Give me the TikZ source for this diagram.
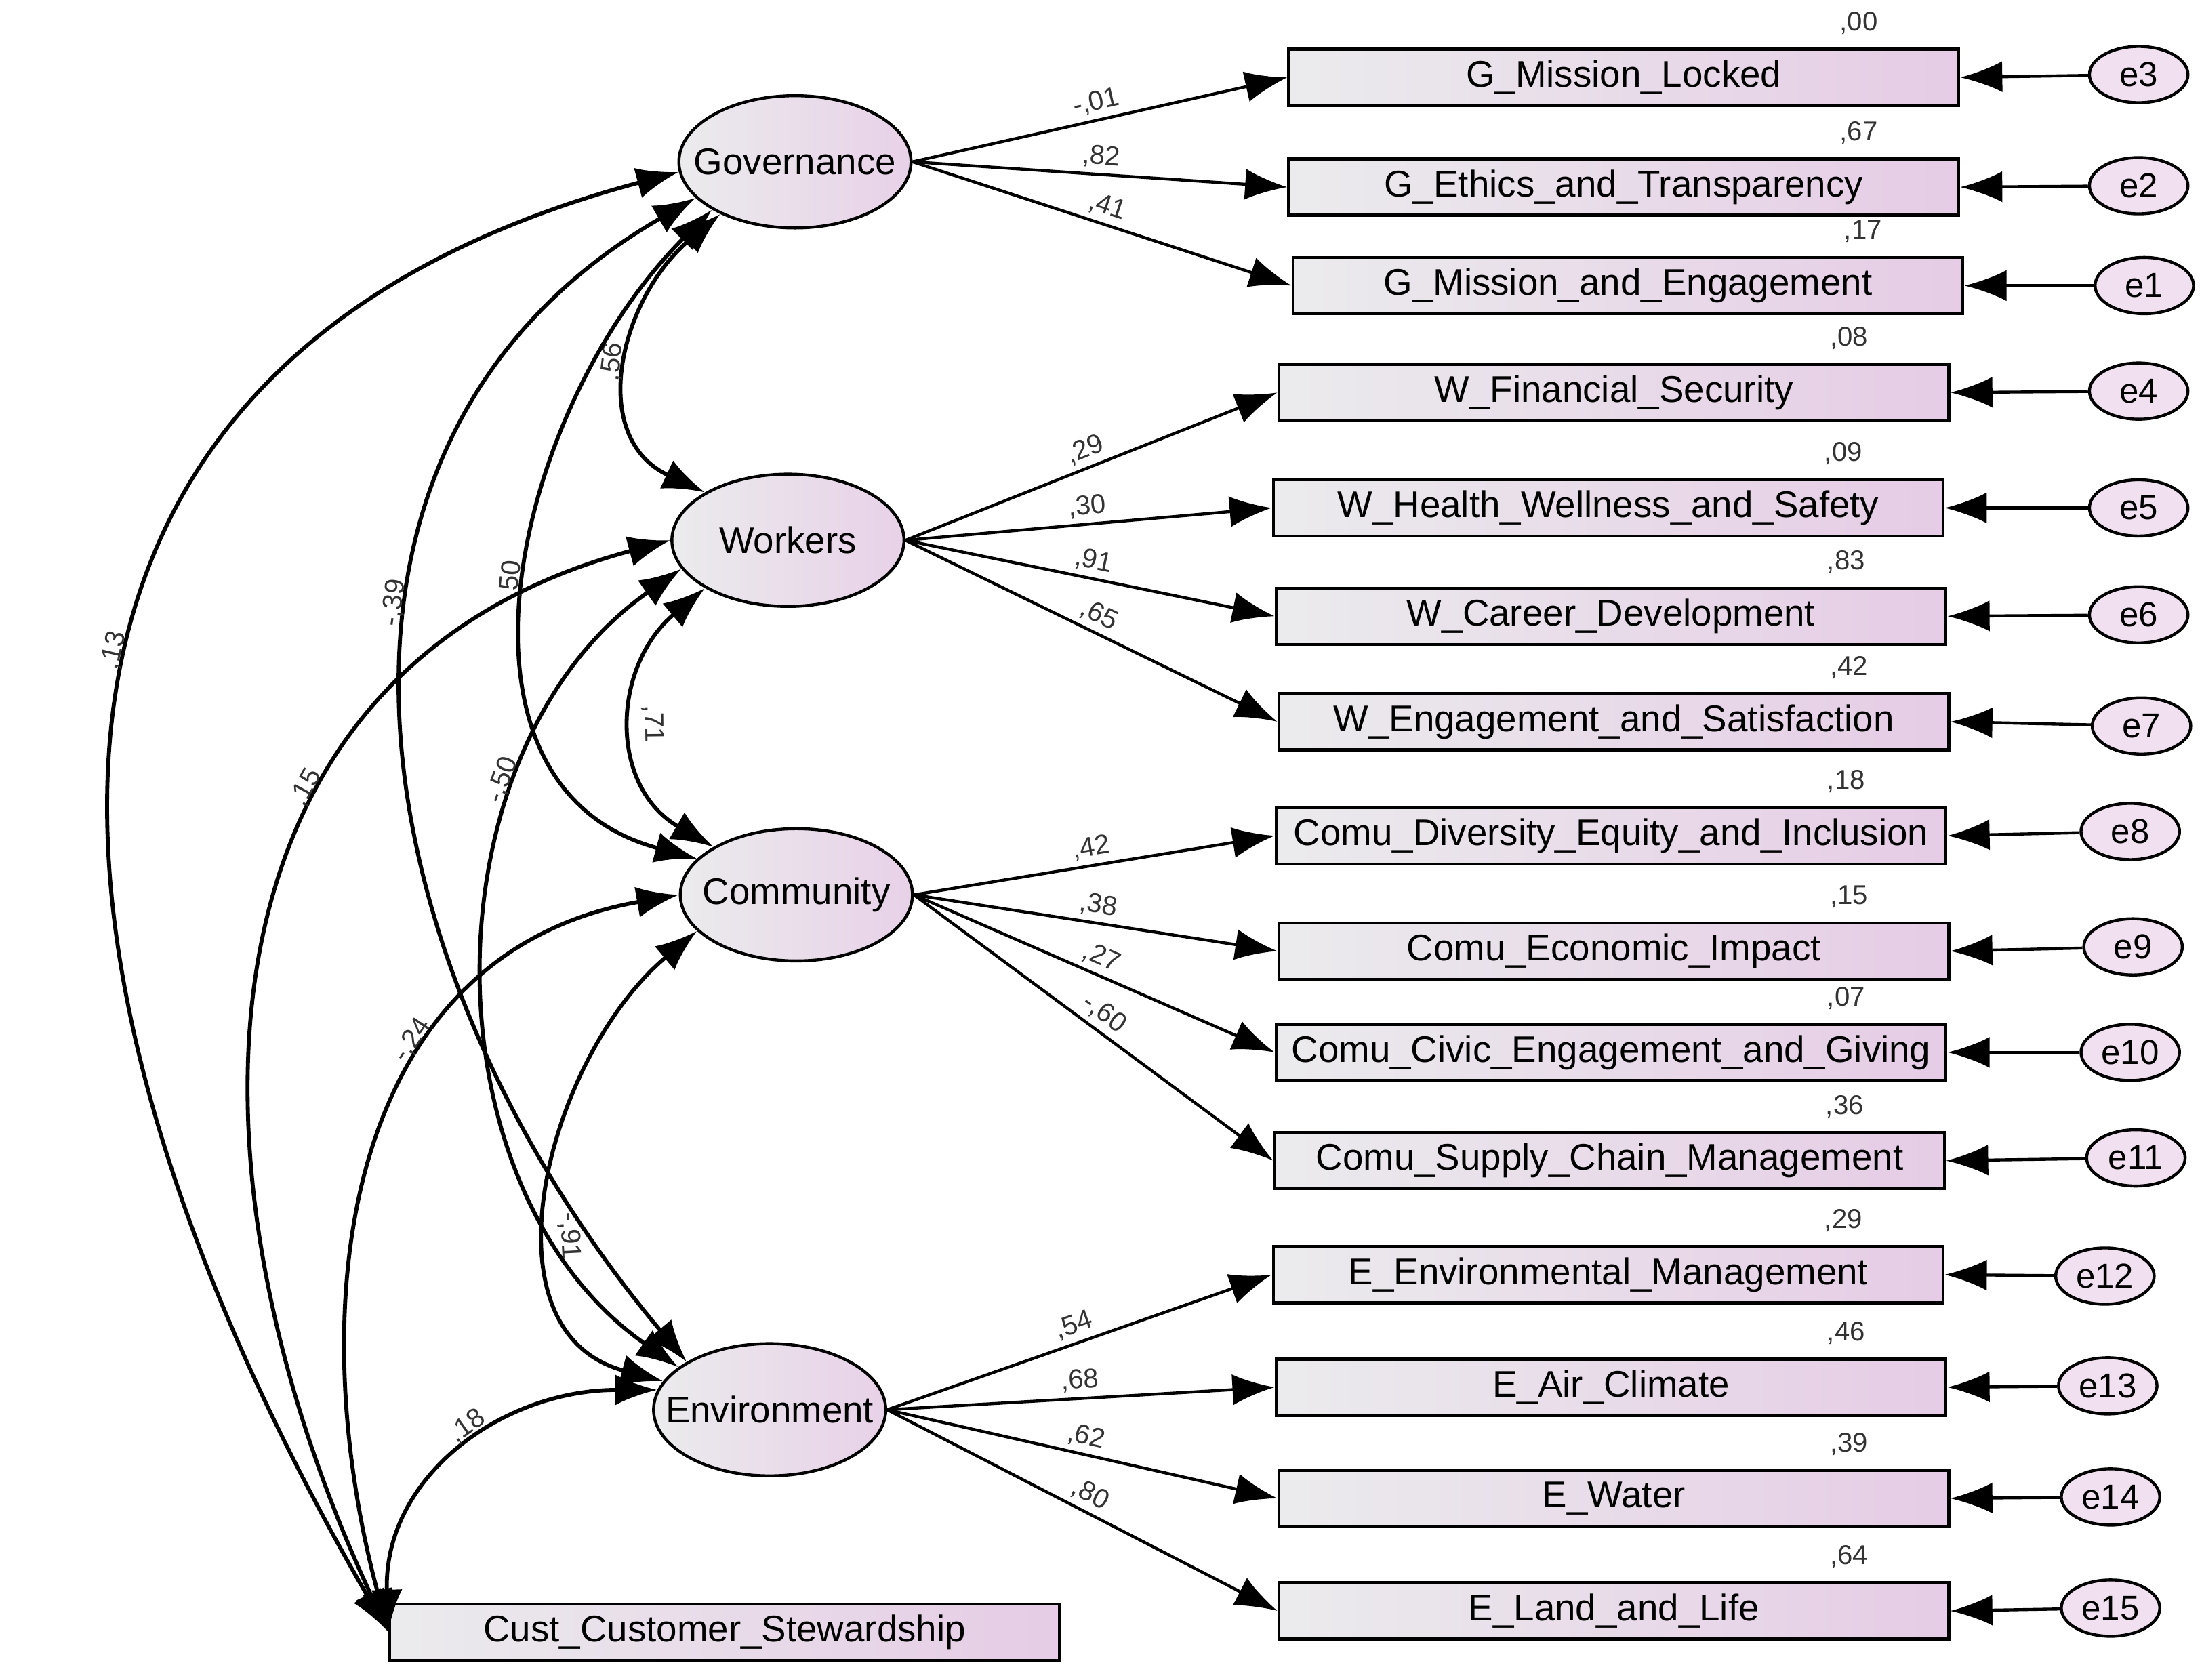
\documentclass[tikz,border=0pt]{standalone}
\usepackage{fontspec}
\setmainfont{Liberation Sans}
\usetikzlibrary{arrows.meta, shapes.geometric}

\begin{document}
\begin{tikzpicture}[
        x = 0.1mm, y = 0.1mm,
        > = {Latex[length=3mm,width=2.2mm]}, % arrow head style
        semithick, % line style
        latent/.style = {ellipse, draw, left color=blue!5!gray!15, right color=violet!18,
            minimum width=16.5mm, minimum height=9.4mm, inner xsep=-2.2mm, inner ysep=0pt,
            font=\fontsize{7.5}{9}\selectfont},
        item/.style = {rectangle, draw, left color=blue!5!gray!15, right color=violet!20,
            minimum width=47.6mm, minimum height=4mm, inner sep=0pt, font=\fontsize{7.5}{9}\selectfont},
        err/.style = {ellipse, draw, fill=violet!12, minimum width=7mm, minimum height=4mm,
            inner sep=0pt, font=\fontsize{7}{8}\selectfont},
        val/.style = {font=\fontsize{5.5}{6}\selectfont, inner sep=1pt, text=black!80},
        cov/.style = {<->, thick}
    ]
    \useasboundingbox (0,0) rectangle (1565,-1194);

    % latent factors
    \node[latent] (gov) at (565,-115) {Governance};
    \node[latent] (wor) at (560,-384) {Workers};
    \node[latent] (com) at (566,-636) {Community};
    \node[latent] (env) at (547,-1002) {Environment};
    \node[item] (cust) at (515,-1160) {Cust\_Customer\_Stewardship};

    % indicators: name/center x/center y/text/error/ex/ey/factor/loading/R2
    \foreach \n/\x/\y/\t/\e/\ex/\ey/\f/\l/\r in {
        gml/1154/55/G\_Mission\_Locked/e3/1520/53/gov/{-,01}/{,00},
        get/1154/133/G\_Ethics\_and\_Transparency/e2/1520/132/gov/{,82}/{,67},
        gme/1157/203/G\_Mission\_and\_Engagement/e1/1524/203/gov/{,41}/{,17},
        wfs/1147/279/W\_Financial\_Security/e4/1520/278/wor/{,29}/{,08},
        whw/1143/361/W\_Health\_Wellness\_and\_Safety/e5/1520/361/wor/{,30}/{,09},
        wcd/1145/438/W\_Career\_Development/e6/1520/437/wor/{,91}/{,83},
        wes/1147/513/W\_Engagement\_and\_Satisfaction/e7/1522/516/wor/{,65}/{,42},
        cdi/1145/594/Comu\_Diversity\_Equity\_and\_Inclusion/e8/1514/591/com/{,42}/{,18},
        cei/1147/676/Comu\_Economic\_Impact/e9/1516/673/com/{,38}/{,15},
        ccg/1145/748/Comu\_Civic\_Engagement\_and\_Giving/e10/1514/748/com/{,27}/{,07},
        csc/1144/825/Comu\_Supply\_Chain\_Management/e11/1518/823/com/{-,60}/{,36},
        eem/1143/906/E\_Environmental\_Management/e12/1496/907/env/{,54}/{,29},
        eac/1145/986/E\_Air\_Climate/e13/1498/985/env/{,68}/{,46},
        ewa/1147/1065/E\_Water/e14/1500/1064/env/{,62}/{,39},
        ell/1147/1145/E\_Land\_and\_Life/e15/1500/1143/env/{,80}/{,64}}{
        \node[item] (\n) at (\x,-\y) {\t};
        \node[err] (\e) at (\ex,-\ey) {\e};
        \node[val, anchor=south] at ([xshift=-7.2mm,yshift=0.5mm]\n.north east) {\r};
        \draw[->] (\e) -- (\n.east);
        \draw[->] (\f.east) -- (\n.west) node[val, pos=0.5, sloped, above] {\l};
    }

    % covariances
    \draw[cov] (gov.215) to[out=220,in=155,looseness=1.2] node[val, pos=0.5, sloped, above] {,56} (wor.150);
    \draw[cov] (gov.210) to[out=225,in=165,looseness=1.1] node[val, pos=0.5, sloped, above] {,50} (com.160);
    \draw[cov] (gov.200) to[out=210,in=130,looseness=1.1] node[val, pos=0.4, sloped, above] {-,39} (env.150);
    \draw[cov] (gov.185) to[out=195,in=120,looseness=1.3] node[val, pos=0.45, sloped, above] {,13} (cust.west);
    \draw[cov] (wor.210) to[out=220,in=150,looseness=1.2] node[val, pos=0.5, sloped, above] {,71} (com.150);
    \draw[cov] (wor.195) to[out=215,in=145,looseness=1.0] node[val, pos=0.3, sloped, above] {-,50} (env.155);
    \draw[cov] (wor.180) to[out=195,in=115,looseness=1.15] node[val, pos=0.35, sloped, above] {,15} (cust.west);
    \draw[cov] (com.200) to[out=220,in=165,looseness=1.1] node[val, pos=0.6, sloped, above] {-,91} (env.165);
    \draw[cov] (com.180) to[out=190,in=105,looseness=1.1] node[val, pos=0.35, sloped, above] {-,24} (cust.west);
    \draw[cov] (env.170) to[out=180,in=92,looseness=1.1] node[val, pos=0.45, sloped, above] {,18} (cust.west);
\end{tikzpicture}
\end{document}
